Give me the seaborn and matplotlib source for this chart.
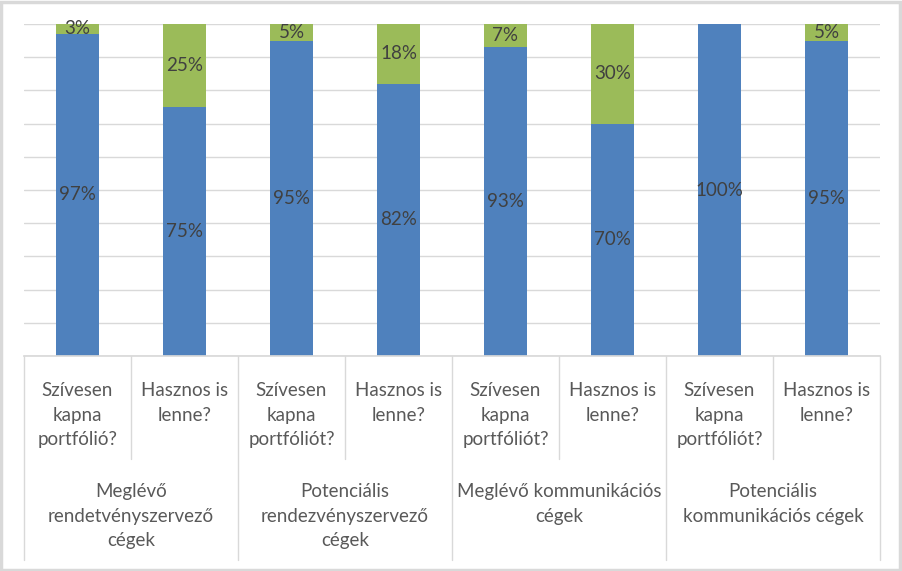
import pandas as pd
import matplotlib.pyplot as plt
import seaborn as sns
from matplotlib.patches import Rectangle
from matplotlib.transforms import blended_transform_factory

# values (percent)
questions = ['Szívesen\nkapna\nportfólió?', 'Hasznos is\nlenne?',
             'Szívesen\nkapna\nportfóliót?', 'Hasznos is\nlenne?',
             'Szívesen\nkapna\nportfóliót?', 'Hasznos is\nlenne?',
             'Szívesen\nkapna\nportfóliót?', 'Hasznos is\nlenne?']
groups = ['Meglévő\nrendetvényszervező\ncégek',
          'Potenciális\nrendezvényszervező\ncégek',
          'Meglévő kommunikációs\ncégek',
          'Potenciális\nkommunikációs cégek']
yes_vals = [97, 75, 95, 82, 93, 70, 100, 95]
no_vals = [3, 25, 5, 18, 7, 30, 0, 5]

df = pd.DataFrame({'pos': [str(i) for i in range(len(yes_vals))],
                   'yes': yes_vals, 'no': no_vals})
df['total'] = df['yes'] + df['no']

sns.set_theme(style='white')
plt.rcParams['font.family'] = ['Lato', 'DejaVu Sans']

blue = '#4f81bd'
green = '#9bbb59'
txt = '#404040'
lbl = '#595959'
grid = '#d9d9d9'

fig = plt.figure(figsize=(9.03, 5.71), dpi=100)
ax = fig.add_axes([24 / 903, 1 - 356 / 571, 856 / 903, 332 / 571])

# stacked: total in green, blue on top of it
sns.barplot(data=df, x='pos', y='total', color=green, width=0.4, ax=ax,
            saturation=1, edgecolor='none')
sns.barplot(data=df, x='pos', y='yes', color=blue, width=0.4, ax=ax,
            saturation=1, edgecolor='none')

ax.set_ylim(0, 100)
ax.set_xlim(-0.5, len(yes_vals) - 0.5)
ax.set_yticks(range(0, 101, 10))
ax.yaxis.grid(True, color=grid, linewidth=1)
ax.set_axisbelow(True)
for s in ['top', 'right', 'left']:
    ax.spines[s].set_visible(False)
ax.spines['bottom'].set_color(grid)
ax.set_xticks([])
ax.set_yticklabels([])
ax.tick_params(left=False, bottom=False)
ax.set_xlabel('')
ax.set_ylabel('')

# data labels
for i, (y, n) in enumerate(zip(yes_vals, no_vals)):
    ax.text(i, y / 2, f'{y}%', ha='center', va='center', fontsize=13.5, color=txt)
    if n > 0:
        ax.text(i, y + n / 2, f'{n}%', ha='center', va='center', fontsize=13.5, color=txt)

# two-level category axis
tr = blended_transform_factory(ax.transData, fig.transFigure)
def fy(py):
    return 1 - py / 571

for i, q in enumerate(questions):
    ax.text(i, fy(382), q, transform=tr, ha='center', va='top', fontsize=13.5,
            color=lbl, linespacing=1.55)
for g, name in enumerate(groups):
    ax.text(2 * g + 0.5, fy(483), name, transform=tr, ha='center', va='top',
            fontsize=13.5, color=lbl, linespacing=1.55)

for k in range(len(yes_vals) + 1):
    x = k - 0.5
    bottom = 560 if k % 2 == 0 else 459
    ax.plot([x, x], [fy(356), fy(bottom)], transform=tr, color=grid,
            linewidth=1, clip_on=False)

# outer frame
fig.patches.append(Rectangle((0.001, 0.002), 0.996, 0.995, transform=fig.transFigure,
                             fill=False, edgecolor='#d9d9d9', linewidth=2.5))

fig.savefig('out.png', dpi=100, facecolor='white')
